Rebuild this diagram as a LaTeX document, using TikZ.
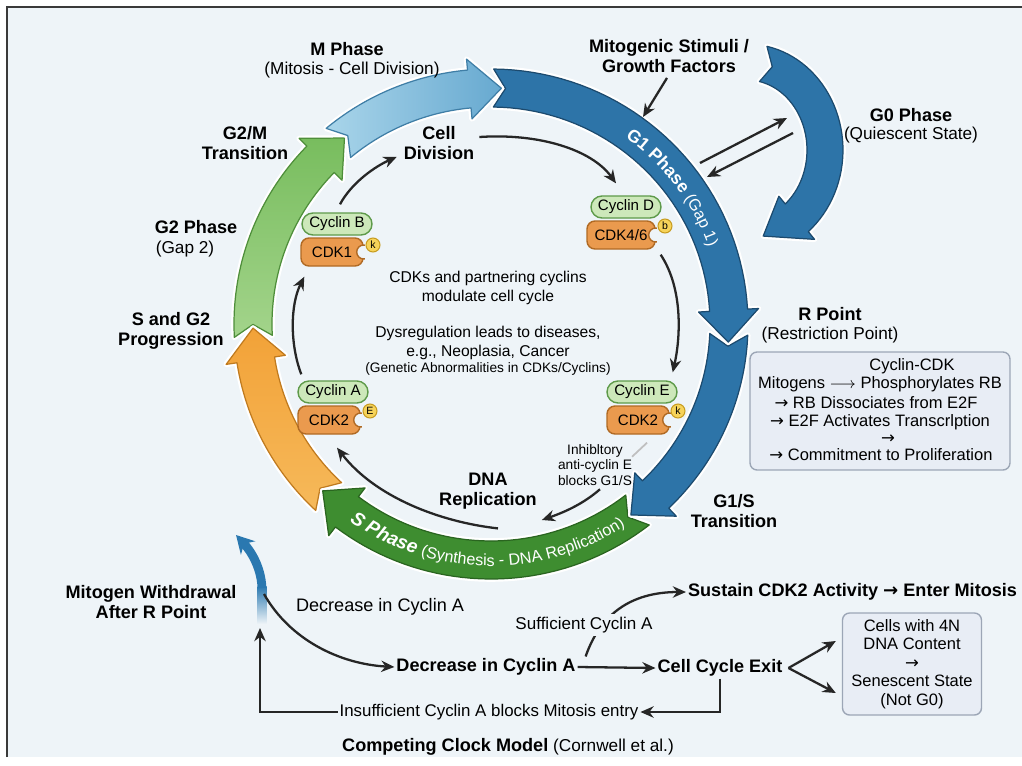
\documentclass[tikz,border=0pt]{standalone}
\usepackage{fontspec}
\setmainfont{Liberation Sans}
\newfontfamily\djv{DejaVu Sans}
\usetikzlibrary{arrows.meta,decorations.text,calc}
\definecolor{bgc}{HTML}{EEF4F8}
\definecolor{framec}{HTML}{3A3A3A}
\definecolor{g1c}{HTML}{2D74A8}
\definecolor{g1d}{HTML}{1C4A6E}
\definecolor{mlight}{HTML}{A9D5EA}
\definecolor{mdark}{HTML}{67A9D0}
\definecolor{md}{HTML}{3F7EA6}
\definecolor{g2top}{HTML}{78BD5E}
\definecolor{g2bot}{HTML}{A3D48B}
\definecolor{g2d}{HTML}{4E8E3A}
\definecolor{orc}{HTML}{F2A238}
\definecolor{orlight}{HTML}{F6B95A}
\definecolor{ord}{HTML}{C07A1E}
\definecolor{sc}{HTML}{3E8D30}
\definecolor{sd}{HTML}{2A6520}
\definecolor{cycf}{HTML}{CDE8BA}
\definecolor{cycd}{HTML}{5E9A4A}
\definecolor{cdkf}{HTML}{EA9A4E}
\definecolor{cdkd}{HTML}{B06A24}
\definecolor{kf}{HTML}{F6D35A}
\definecolor{kd}{HTML}{C79C20}
\definecolor{boxf}{HTML}{E8EDF5}
\definecolor{boxd}{HTML}{9CA6B6}
\definecolor{arrc}{HTML}{262626}
\definecolor{bluea}{HTML}{2A78B0}
\newcommand{\fbold}{\fontsize{10.3}{11.6}\selectfont\bfseries}
\newcommand{\fsub}{\fontsize{9.8}{11}\selectfont}
\newcommand{\finn}{\fontsize{8.9}{10.8}\selectfont}
\newcommand{\fsmall}{\fontsize{7.8}{8.6}\selectfont}
\newcommand{\ftxt}{\fontsize{9.4}{10.6}\selectfont}
\newcommand{\bandarrow}[8]{%
  \pgfmathsetmacro{\bah}{\baL/((#3+#4)/2)*57.2958}%
  \pgfmathsetmacro{\ban}{\baN/((#3+#4)/2)*57.2958}%
  \pgfmathsetmacro{\bhb}{(#7)-\bah}%
  \pgfmathsetmacro{\bnt}{(#6)+\ban}%
  \pgfmathsetmacro{\rxo}{#3+#5}\pgfmathsetmacro{\ryo}{#4+#5}%
  \pgfmathsetmacro{\rxi}{#3-#5}\pgfmathsetmacro{\ryi}{#4-#5}%
  \pgfmathsetmacro{\rxh}{#3+#5+\baE}\pgfmathsetmacro{\ryh}{#4+#5+\baE}%
  \pgfmathsetmacro{\rxj}{#3-#5-\baE}\pgfmathsetmacro{\ryj}{#4-#5-\baE}%
  \begin{scope}[shift={(#1,#2)}]
    \draw[#8] plot[domain=0:1,samples=40,variable=\t] ({\rxo*cos((#6)+(\bhb-(#6))*\t)},{\ryo*sin((#6)+(\bhb-(#6))*\t)})
      -- ({\rxh*cos(\bhb)},{\ryh*sin(\bhb)})
      -- ({(#3)*cos(#7)},{(#4)*sin(#7)})
      -- ({\rxj*cos(\bhb)},{\ryj*sin(\bhb)})
      -- plot[domain=0:1,samples=40,variable=\t] ({\rxi*cos(\bhb+((#6)-\bhb)*\t)},{\ryi*sin(\bhb+((#6)-\bhb)*\t)})
      -- ({(#3)*cos(\bnt)},{(#4)*sin(\bnt)}) -- cycle;
  \end{scope}}
\begin{document}
\begin{tikzpicture}[x=0.02cm,y=-0.02cm,
  band/.style={line width=0.7pt, line join=round, preaction={draw=white, line width=3.2pt, line join=round}},
  g1arrow/.style={band, fill=g1c, draw=g1d},
  marrow/.style={band, left color=mlight, right color=mdark, draw=md},
  g2arrow/.style={band, top color=g2top, bottom color=g2bot, draw=g2d},
  orarrow/.style={band, top color=orc, bottom color=orlight, draw=ord},
  sarrow/.style={band, fill=sc, draw=sd},
  lbl/.style={font=\fbold, align=center, inner sep=1pt, text=black},
  sub/.style={font=\fsub, align=center, inner sep=1pt},
  reg/.style={font=\fontsize{10.3}{12}\selectfont, align=center, inner sep=1pt},
  innert/.style={font=\finn, align=center, inner sep=1pt},
  cyc/.style={draw=cycd, fill=cycf, line width=0.8pt, rounded corners=0.22cm, minimum width=1.4cm, minimum height=0.44cm, inner sep=1pt, font=\fontsize{8.6}{9}\selectfont},
  cdk/.style={draw=cdkd, fill=cdkf, line width=0.8pt, rounded corners=0.16cm, minimum width=1.24cm, minimum height=0.56cm, inner sep=1pt, font=\fontsize{8.6}{9}\selectfont},
  kin/.style={circle, draw=kd, fill=kf, line width=0.6pt, minimum size=0.28cm, inner sep=0pt, font=\fontsize{6}{6}\selectfont},
  rbox/.style={draw=boxd, fill=boxf, line width=0.8pt, rounded corners=4pt},
  boxt/.style={font=\ftxt, inner sep=0.5pt},
  flow/.style={draw=arrc, line width=1.3pt, -{Stealth[length=7.5pt,width=6.5pt]}},
  faint/.style={draw=gray!50, line width=1pt}
]
\useasboundingbox (0,0) rectangle (1022,765);
\fill[white] (0,0) rectangle (1022,765);
\fill[bgc] (7,7) rectangle (1022,757);
\draw[framec, line width=1.2pt] (7,757) -- (7,7) -- (1022,7);

% ---- cycle arrows ----
\def\cx{491}\def\cy{324}
\def\baL{32}\def\baN{12}\def\baE{11}
\bandarrow{\cx}{\cy}{238}{236}{19}{177}{232}{g2arrow}
\bandarrow{\cx}{\cy}{238}{236}{19}{133}{179}{orarrow}
\bandarrow{\cx}{\cy}{238}{236}{19}{52}{135}{sarrow}
\bandarrow{\cx}{\cy}{238}{236}{19}{2.5}{54}{g1arrow}
\bandarrow{\cx}{\cy}{238}{236}{19}{-89.4}{4.4}{g1arrow}
\bandarrow{\cx}{\cy}{238}{236}{19}{230.1}{272.5}{marrow}
\def\baL{40}\def\baN{10}\def\baE{10}
\bandarrow{747}{150}{78}{88}{18}{-78}{78}{g1arrow}

% texts on arcs
\path[decorate, decoration={text along path, text align=center, text color=white,
  text={|\fontsize{10}{12}\selectfont\bfseries|G1 Phase |\fontsize{9.2}{11}\selectfont|(Gap 1)}}]
  plot[domain=0:1,samples=60,variable=\t] ({\cx+231*cos(-62+50*\t)},{\cy+229*sin(-62+50*\t)});
\path[decorate, decoration={text along path, text align=center, text color=white,
  text={|\fontsize{10.8}{12}\selectfont\bfseries\itshape|S Phase |\fontsize{9.2}{11}\selectfont|(Synthesis - DNA Replication)}}]
  plot[domain=0:1,samples=60,variable=\t] ({\cx+244*cos(130-78*\t)},{\cy+242*sin(130-78*\t)});

% ---- labels ----
\node[lbl] (mph) at (347,49) {M Phase};
\node[sub] (mphs) at (352,70) {(Mitosis - Cell Division)};
\node[lbl] (g2m) at (245,143) {G2/M\\Transition};
\node[lbl] (celldiv) at (439,143) {Cell\\Division};
\node[lbl] (g2ph) at (196,227) {G2 Phase};
\node[sub] (g2phs) at (185,249) {(Gap 2)};
\node[lbl] (sg2) at (171,331) {S and G2\\Progression};
\node[lbl] (mito) at (669,56) {Mitogenic Stimuli /\\Growth Factors};
\node[lbl] (g0) at (911,115) {G0 Phase};
\node[sub] (g0s) at (911,135) {(Quiescent State)};
\node[lbl] (rp) at (830,314) {R Point};
\node[sub] (rps) at (830,335) {(Restriction Point)};
\node[lbl] (g1s) at (734,511) {G1/S\\Transition};
\node[lbl] (dna) at (488,491) {DNA\\Replication};

% center texts
\node[innert] (ctr1) at (488,288) {CDKs and partnering cyclins\\modulate cell cycle};
\node[innert] (ctr2) at (488,343) {Dysregulation leads to diseases,\\e.g., Neoplasia, Cancer};
\node[innert, font=\fsmall] (ctr3) at (488,369) {(Genetic Abnormalities in CDKs/Cyclins)};
\node[innert, font=\fsmall] (inhib) at (595,465) {Inhibltory\\anti-cyclin E\\blocks G1/S};

% cyclin / CDK complexes
\node[cyc] (cycB) at (337,224) {Cyclin B};
\node[cdk] (cdk1) at (332,252) {CDK1};
\node[cyc] (cycD) at (626,207) {Cyclin D};
\node[cdk, minimum width=1.36cm] (cdkD) at (621,235) {CDK4/6};
\node[cyc] (cycA) at (333,392) {Cyclin A};
\node[cdk] (cdkA) at (329,420) {CDK2};
\node[cyc] (cycE) at (642,392) {Cyclin E};
\node[cdk] (cdkE) at (638,420) {CDK2};
\foreach \n in {cdk1,cdkD,cdkA,cdkE}{
  \begin{scope}
    \clip (\n.south west) rectangle ([xshift=0.7pt]\n.north east);
    \draw[cdkd, fill=bgc, line width=0.8pt] (\n.east) circle[radius=0.14cm];
  \end{scope}
}
\node[kin] (k1) at (373,245) {k};
\node[kin] (kD) at (665,226) {b};
\node[kin] (kA) at (370,411) {E};
\node[kin] (kE) at (678,411) {k};

% R box
\node[rbox, minimum width=5.2cm, minimum height=2.36cm] (rbox) at (880,411) {};
\node[boxt] (r1) at (912,366) {Cyclin-CDK};
\node[boxt] (r2) at (880,384) {Mitogens $\longrightarrow$ Phosphorylates RB};
\node[boxt] (r3) at (876,403) {{\djv →} RB Dissociates from E2F};
\node[boxt] (r4) at (880,422) {{\djv →} E2F Activates Transcrlption};
\node[boxt] (r5) at (888,439) {{\djv →}};
\node[boxt] (r6) at (881,455) {{\djv →} Commitment to Proliferation};

% ---- inner connectors ----
\draw[flow] ($(cycB.north)+(3,-8)$) .. controls (352,182) and (376,166) .. ($(celldiv.south west)+(-5,-5)$);
\draw[flow] ($(celldiv.east)+(3,-6)$) .. controls (540,133) and (592,150) .. ($(cycD.north)+(-10,-12)$);
\draw[flow] ($(cdkD.south east)+(5,5)$) .. controls (684,290) and (680,340) .. ($(cycE.north east)+(-5,-8)$);
\draw[flow] ($(cycA.north west)+(4,-6)$) .. controls (290,345) and (290,305) .. ($(cdk1.south west)+(4,10)$);
\draw[flow] ($(dna.south)+(10,17)$) .. controls (440,522) and (375,497) .. ($(cdkA.south)+(8,13)$);
\draw[faint] ($(cdkE.south)+(9,8)$) -- ($(inhib.north east)+(-2,14)$);
\draw[flow] ($(inhib.south)+(5,2)$) .. controls (582,505) and (562,513) .. ($(dna.east)+(3,29)$);

% top connectors
\coordinate (g1in) at (643,117);
\draw[flow] ($(mito.south)+(-2,3)$) -- (g1in);
\coordinate (p1) at (700,163); \coordinate (p2) at (787,118);
\coordinate (p3) at (793,133); \coordinate (p4) at (707,177);
\draw[flow] (p1) -- (p2);
\draw[flow] (p3) -- (p4);

% ---- bottom ----
\node[lbl] (mw) at (151,602) {Mitogen Withdrawal\\After R Point};
\node[reg] (dec1) at (380,607) {Decrease in Cyclin A};
\node[lbl] (dec2) at (486,667) {Decrease in Cyclin A};
\node[lbl] (exit) at (720,668) {Cell Cycle Exit};
\node[lbl, anchor=west] (sust) at (686,592) {Sustain CDK2 Activity {\djv\bfseries →} Enter Mitosis};
\node[rbox, minimum width=2.78cm, minimum height=2.04cm, align=center, font=\fontsize{9.4}{10.6}\selectfont] (b4n) at (912,664) {Cells with 4N\\DNA Content\\{\djv →}\\Senescent State\\(Not G0)};
\node[reg, font=\fontsize{9.6}{11}\selectfont] (insuf) at (489,712) {Insufficient Cyclin A blocks Mitosis entry};
\node (ccm) at (508,747) {{\fbold Competing Clock Model} {\fsub (Cornwell et al.)}};

% mitogen withdrawal blue arrow: fading lower part + solid upper part
\coordinate (mwa) at (262,588); \coordinate (mwb) at (236,535);
\shade[top color=bluea, bottom color=bgc] (257.5,586) rectangle (266.5,624);
\draw[bluea, line width=5pt, -{Stealth[length=10pt,width=11pt]}] (mwa) .. controls (261,566) and (250,550) .. (mwb);
\coordinate (mwc) at (264,594);
\draw[flow] (mwc) .. controls (290,640) and (340,664) .. (dec2.west);
\coordinate (bl) at (260,712); \coordinate (m2) at (260,628);
\draw[flow] (insuf.west) -- (bl) -- (m2);
\draw[flow] (dec2.east) -- (exit.west);
\draw[flow] (exit.south) |- (insuf.east);
\draw[flow] ($(exit.east)+(4,0)$) -- ($(b4n.west)+(-6,-23)$);
\draw[flow] ($(exit.east)+(4,0)$) -- ($(b4n.west)+(-6,29)$);
\draw[flow] ($(dec2.north east)+(8,0)$) .. controls (600,615) and (630,592) .. (sust.west);
\node[reg, font=\fontsize{9.7}{11}\selectfont, fill=bgc, inner sep=2pt] (suff) at (584,625) {Sufficient Cyclin A};
\end{tikzpicture}
\end{document}
